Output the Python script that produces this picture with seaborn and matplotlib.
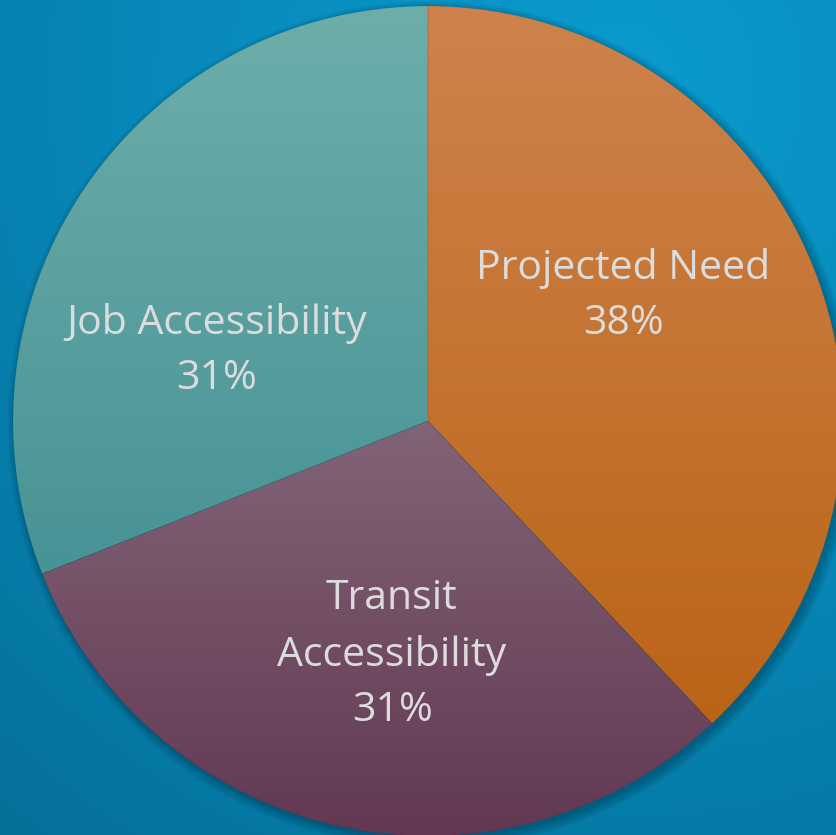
import numpy as np
import matplotlib.pyplot as plt
import seaborn as sns
from matplotlib.patches import Circle

# data
labels = ["Projected Need", "Transit\nAccessibility", "Job Accessibility"]
shares = [38, 31, 31]
top_colors = ["#CE834C", "#826477", "#6DAEAA"]
bottom_colors = ["#BA6417", "#623853", "#489396"]
label_xy = [(623, 296), (392, 655), (217, 351)]

sns.set_style("white")
plt.rcParams['font.family'] = ['Open Sans', 'DejaVu Sans']

W, H = 836, 835
fig = plt.figure(figsize=(W / 100, H / 100), dpi=100)
ax = fig.add_axes([0, 0, 1, 1])

# fondo degradado
yy, xx = np.mgrid[0:H, 0:W]
d = np.hypot(xx - 620, yy - 80)
bg_cmap = sns.blend_palette(["#0A9BCE", "#0888B8", "#05709A"], as_cmap=True)
ax.imshow(d / d.max(), cmap=bg_cmap, extent=(0, W, 0, H), origin='upper',
          aspect='auto', zorder=0)

cx, cy, r = 428, H - 421, 415

# sombra
for i in range(10):
    ax.add_patch(Circle((cx + 3, cy - 4), r + i * 1.0, color='black',
                        alpha=0.025, lw=0, zorder=1))

wedges, _ = ax.pie(shares, center=(cx, cy), radius=r, startangle=90,
                   counterclock=False, frame=True,
                   colors=bottom_colors,
                   wedgeprops=dict(linewidth=0.6, edgecolor=(0, 0, 0, 0.08)))

for w, c1, c2 in zip(wedges, top_colors, bottom_colors):
    w.set_zorder(2)
    t = np.radians(np.linspace(w.theta1, w.theta2, 200))
    px = np.concatenate([[cx], cx + r * np.cos(t)])
    py = np.concatenate([[cy], cy + r * np.sin(t)])
    grad = np.linspace(0, 1, 256).reshape(-1, 1)
    cmap = sns.blend_palette([c1, c2], as_cmap=True)
    im = ax.imshow(grad, cmap=cmap, extent=(px.min(), px.max(), py.min(), py.max()),
                   origin='upper', aspect='auto', zorder=3)
    im.set_clip_path(w)

for w in wedges:
    w.set_facecolor('none')
    w.set_zorder(4)

for lab, s, (x, y) in zip(labels, shares, label_xy):
    ax.text(x, H - y, f"{lab}\n{s}%", ha='center', va='center', fontsize=29.5,
            color="#DCDCDC", linespacing=1.5, zorder=5)

ax.set_xlim(0, W)
ax.set_ylim(0, H)
ax.set_aspect('auto')
ax.axis('off')

plt.savefig("out.png", dpi=100)
